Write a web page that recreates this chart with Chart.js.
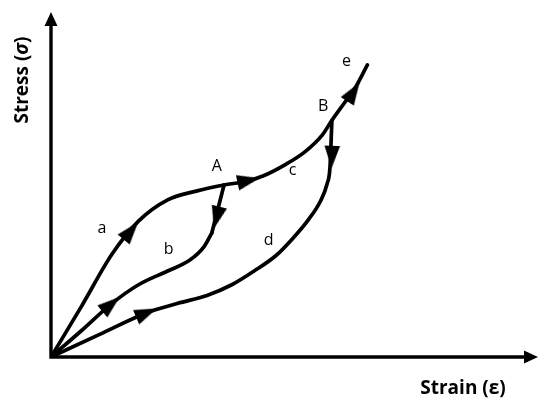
<!DOCTYPE html>
<html>
<head>
<meta charset="utf-8">
<script src="https://cdn.jsdelivr.net/npm/chart.js@4.4.1/dist/chart.umd.min.js"></script>
<style>
html,body{margin:0;padding:0;background:#fff;}
#wrap{width:550px;height:401px;}
</style>
</head>
<body>
<div id="wrap"><canvas id="c" width="550" height="401"></canvas></div>
<script>
// Loading path a -> A -> c -> B -> e  (strain, stress in arbitrary units)
const pathACE = [
  {x:0,y:0},{x:6.3,y:14.8},{x:12.5,y:29.8},{x:18.0,y:39.5},{x:24.0,y:45.7},{x:30.1,y:48.3},
  {x:35.6,y:50.0},{x:40.2,y:51.1},{x:43.6,y:52.6},{x:48.3,y:56.0},{x:52.3,y:59.7},
  {x:55.8,y:64.5},{x:57.8,y:68.8},{x:60.4,y:73.9},{x:62.4,y:77.8},{x:65.1,y:84.9}
];
// Path b (origin up to the drop from A)
const pathB = [
  {x:0,y:0},{x:6.3,y:7.7},{x:12.3,y:15.3},{x:18.0,y:21.0},{x:24.0,y:25.0},
  {x:28.5,y:28.1},{x:31.5,y:32.1},{x:33.1,y:36.1}
];
// Drop from point A
const dropA = [{x:33.1,y:36.1},{x:35.6,y:50.0}];
// Path d (origin up to point B)
const pathD = [
  {x:0,y:0},{x:9.9,y:6.5},{x:19.6,y:12.8},{x:26.1,y:15.6},{x:32.1,y:17.9},{x:37.2,y:21.0},
  {x:41.8,y:25.0},{x:46.3,y:29.5},{x:49.7,y:34.4},{x:52.9,y:39.8},{x:55.4,y:45.2},
  {x:56.8,y:50.3},{x:57.4,y:55.1},{x:57.8,y:68.8}
];
// Arrow heads: position and direction (degrees clockwise from up)
const arrowPts = [
  {x:16.4,y:36.6},{x:40.6,y:51.3},{x:62.2,y:77.0},{x:34.1,y:40.6},
  {x:57.8,y:58.2},{x:12.3,y:15.3},{x:19.6,y:12.8}
];
const arrowRot = [40, 78, 33, 194, 182, 50, 67];
// Curve / point labels
const labelText = ['a','b','A','c','d','B','e'];
const labelPos = [
  {x:10.5,y:37.5},{x:24.2,y:31.3},{x:34.1,y:55.4},{x:49.7,y:54.3},
  {x:44.8,y:33.8},{x:56.0,y:72.7},{x:60.8,y:85.8}
];
const xTitle = ['Strain (', 'ε', ')'];
const yTitle = ['Stress (', 'σ', ')'];

// arrow head image
const arrowImg = document.createElement('canvas');
arrowImg.width = 26; arrowImg.height = 26;
(function(){
  const g = arrowImg.getContext('2d');
  g.fillStyle = '#000';
  g.beginPath();
  g.moveTo(13,1.5); g.lineTo(20.8,24); g.lineTo(5.2,24); g.closePath();
  g.fill();
})();

const lineDs = (data, mode) => ({
  data, showLine:true, borderColor:'#000', borderWidth:3.7, pointRadius:0,
  pointHoverRadius:0, cubicInterpolationMode: mode || 'monotone', tension:0,
  borderCapStyle:'round', borderJoinStyle:'round', fill:false
});

function drawParts(ctx, parts, italicIdx, size){
  const fonts = parts.map((p,i)=> (i===italicIdx ? 'italic bold ' : 'bold ') + size + 'px "Open Sans"');
  const widths = parts.map((p,i)=>{ ctx.font = fonts[i]; return ctx.measureText(p).width; });
  const total = widths.reduce((s,w)=>s+w,0);
  let x = -total/2;
  ctx.textAlign = 'left';
  parts.forEach((p,i)=>{ ctx.font = fonts[i]; ctx.fillText(p, x, 0); x += widths[i]; });
}

const decor = {
  id:'decor',
  beforeDatasetsDraw(chart){
    const ctx = chart.ctx, a = chart.chartArea;
    ctx.save();
    ctx.strokeStyle = '#000'; ctx.fillStyle = '#000'; ctx.lineWidth = 3.4;
    ctx.lineCap = 'butt';
    const ox = a.left, oy = a.bottom;
    ctx.beginPath();
    ctx.moveTo(ox, oy+1.7); ctx.lineTo(ox, a.top+10);
    ctx.moveTo(ox-1.7, oy); ctx.lineTo(a.right-10, oy);
    ctx.stroke();
    ctx.beginPath();
    ctx.moveTo(ox, a.top-1); ctx.lineTo(ox+6.5, a.top+13); ctx.lineTo(ox-6.5, a.top+13); ctx.closePath();
    ctx.fill();
    ctx.beginPath();
    ctx.moveTo(a.right+1, oy); ctx.lineTo(a.right-13, oy-6.5); ctx.lineTo(a.right-13, oy+6.5); ctx.closePath();
    ctx.fill();
    ctx.restore();
  },
  afterDraw(chart){
    const ctx = chart.ctx, xs = chart.scales.x, ys = chart.scales.y;
    ctx.save();
    ctx.fillStyle = '#000';
    ctx.textAlign = 'center'; ctx.textBaseline = 'middle';
    ctx.font = '16px "Open Sans"';
    labelText.forEach((t,i)=>{
      ctx.fillText(t, xs.getPixelForValue(labelPos[i].x), ys.getPixelForValue(labelPos[i].y));
    });
    ctx.save();
    ctx.translate(463, 389);
    drawParts(ctx, xTitle, -1, 19);
    ctx.restore();
    ctx.translate(23, 80);
    ctx.rotate(-Math.PI/2);
    drawParts(ctx, yTitle, 1, 19);
    ctx.restore();
  }
};

new Chart(document.getElementById('c'), {
  type:'scatter',
  data:{ datasets:[
    lineDs(pathACE),
    lineDs(pathB),
    lineDs(dropA, 'default'),
    lineDs(pathD),
    { data: arrowPts, showLine:false, pointStyle: arrowImg, pointRotation: arrowRot,
      pointRadius: 12, pointHoverRadius: 12 }
  ]},
  options:{
    responsive:false, animation:false, events:[],
    layout:{ padding:{ left:51, right:4, top:5, bottom:44 } },
    plugins:{ legend:{display:false}, tooltip:{enabled:false} },
    scales:{
      x:{ type:'linear', min:0, max:100, display:false },
      y:{ type:'linear', min:0, max:100, display:false }
    }
  },
  plugins:[decor]
});
</script>
</body>
</html>
